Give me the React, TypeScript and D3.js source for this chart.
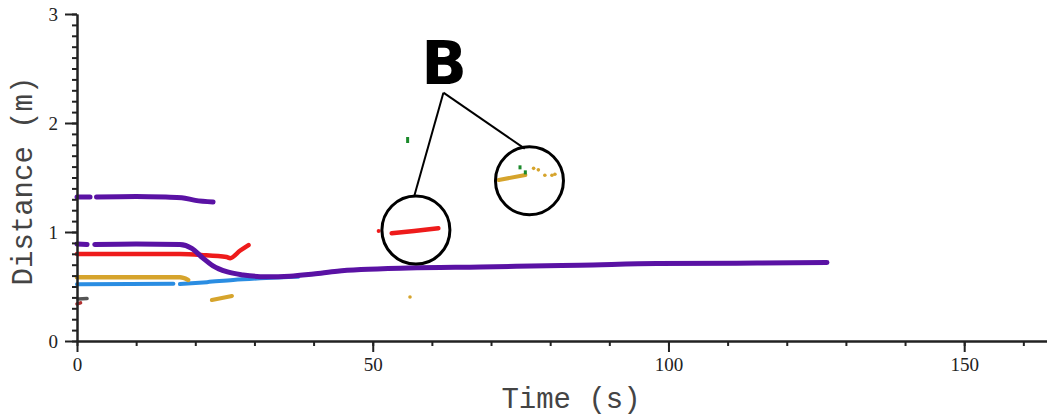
import React, { useEffect, useRef } from "react";
import * as d3 from "d3";

type Pt = [number, number];

// time (s), distance (m)
const purpleUpperA: Pt[] = [[0, 1.32], [2.2, 1.32]];
const purpleUpperB: Pt[] = [[3.3, 1.32], [10, 1.325], [15, 1.32], [17.7, 1.315], [20, 1.29], [23, 1.275]];
const purpleLowerA: Pt[] = [[0, 0.89], [1.7, 0.885]];
const purpleLowerB: Pt[] = [
  [3.0, 0.885], [10, 0.89], [17.4, 0.885], [19.4, 0.85], [21.3, 0.76], [23, 0.69], [25.3, 0.636],
  [28.1, 0.606], [32, 0.59], [36, 0.595], [40, 0.615], [44, 0.64], [48, 0.655], [56, 0.67],
  [68.2, 0.68], [79.4, 0.69], [85, 0.695], [98, 0.71], [115, 0.715], [126.8, 0.72],
];
const redMain: Pt[] = [[0, 0.798], [10, 0.798], [17.4, 0.798], [21, 0.79], [25.3, 0.77], [25.9, 0.76], [27.6, 0.83], [29, 0.88]];
const redCircle: Pt[] = [[53.2, 0.988], [57, 1.01], [61.1, 1.034]];
const redDots: Pt[] = [[51, 1.01]];
const goldMain: Pt[] = [[0, 0.584], [10, 0.584], [17.4, 0.584], [18.8, 0.56]];
const goldLow: Pt[] = [[22.8, 0.376], [26.2, 0.413]];
const goldCircle: Pt[] = [[71.3, 1.477], [75.8, 1.523]];
const goldDots: Pt[] = [[56.3, 0.404], [77.2, 1.584], [78.0, 1.57], [79.1, 1.52], [80.3, 1.52], [80.8, 1.53]];
const blueA: Pt[] = [[0, 0.52], [9, 0.522], [16.3, 0.525]];
const blueB: Pt[] = [[17.4, 0.523], [22, 0.54], [26.4, 0.56], [31, 0.575], [34.9, 0.585], [37.4, 0.59]];
const greenDots: Pt[] = [[55.9, 1.844], [74.9, 1.584], [75.8, 1.538]];
const grayShort: Pt[] = [[0.2, 0.385], [1.7, 0.39]];
const darkRedShort: Pt[] = [[0, 0.34], [0.6, 0.35]];

const xMajor = [0, 50, 100, 150];
const xMinor = d3.range(0, 161, 10);
const yMajor = [0, 1, 2, 3];
const yMinor = d3.range(0, 30.5, 1).map((v) => v / 10);

const W = 1047, H = 417;
const serif = "'Liberation Serif', 'DejaVu Serif', serif";
const mono = "'Liberation Mono', 'DejaVu Sans Mono', monospace";

export default function App() {
  const xRef = useRef<SVGGElement>(null);
  const yRef = useRef<SVGGElement>(null);

  const x = d3.scaleLinear().domain([0, 164]).range([77, 1047]);
  const y = d3.scaleLinear().domain([0, 3]).range([341, 14]);
  const line = d3.line<Pt>().x((d) => x(d[0])).y((d) => y(d[1])).curve(d3.curveMonotoneX);

  useEffect(() => {
    const gx = d3.select(xRef.current);
    gx.selectAll("*").remove();
    gx.append("g").call(d3.axisBottom(x).tickValues(xMinor).tickSize(5).tickSizeOuter(0).tickFormat(() => ""));
    gx.append("g").call(d3.axisBottom(x).tickValues(xMajor).tickSize(11).tickSizeOuter(0).tickPadding(6).tickFormat(d3.format("d")));

    const gy = d3.select(yRef.current);
    gy.selectAll("*").remove();
    gy.append("g").call(d3.axisLeft(y).tickValues(yMinor).tickSize(5).tickSizeOuter(0).tickFormat(() => ""));
    gy.append("g").call(d3.axisLeft(y).tickValues(yMajor).tickSize(12).tickSizeOuter(0).tickPadding(7).tickFormat(d3.format("d")));

    [gx, gy].forEach((g) => {
      g.selectAll("g").attr("font-family", serif).attr("font-size", 19);
      g.selectAll("path.domain").attr("stroke", "#222").attr("stroke-width", 2);
      g.selectAll(".tick line").attr("stroke", "#222").attr("stroke-width", 2);
      g.selectAll(".tick text").attr("fill", "#222").attr("font-family", serif).attr("font-size", 19);
    });
  }, []);

  const segs: { pts: Pt[]; color: string; w: number }[] = [
    { pts: purpleUpperA, color: "#5a12a4", w: 5 },
    { pts: purpleUpperB, color: "#5a12a4", w: 5 },
    { pts: blueA, color: "#2a8de2", w: 4 },
    { pts: blueB, color: "#2a8de2", w: 4 },
    { pts: goldMain, color: "#d6a42c", w: 4.5 },
    { pts: goldLow, color: "#d6a42c", w: 4 },
    { pts: redMain, color: "#ee1b1b", w: 4.5 },
    { pts: purpleLowerA, color: "#5a12a4", w: 5 },
    { pts: purpleLowerB, color: "#5a12a4", w: 5 },
    { pts: redCircle, color: "#ee1b1b", w: 4.5 },
    { pts: goldCircle, color: "#d6a42c", w: 4 },
    { pts: grayShort, color: "#555", w: 3.5 },
    { pts: darkRedShort, color: "#b03030", w: 3.5 },
  ];

  const apex: Pt = [61.95, 2.278];
  const circles: { c: Pt; r: number }[] = [
    { c: [57.3, 1.018], r: 34 },
    { c: [76.5, 1.47], r: 34 },
  ];
  const leaderEnds: Pt[] = [[57.0, 1.325], [75.7, 1.765]];

  return (
    <svg width={W} height={H} style={{ position: "absolute", left: 0, top: 0, background: "#fff" }}>
      {segs.map((s, i) => (
        <path key={i} d={line(s.pts) ?? ""} fill="none" stroke={s.color} strokeWidth={s.w} strokeLinecap="round" />
      ))}
      {redDots.map((d, i) => (
        <circle key={"r" + i} cx={x(d[0])} cy={y(d[1])} r={2} fill="#ee1b1b" />
      ))}
      {goldDots.map((d, i) => (
        <circle key={"g" + i} cx={x(d[0])} cy={y(d[1])} r={1.8} fill="#d6a42c" />
      ))}
      {greenDots.map((d, i) => (
        <rect key={"gr" + i} x={x(d[0]) - 1.5} y={y(d[1]) - 3} width={3} height={i === 0 ? 6 : 4} fill="#1b8a2b" />
      ))}

      <g ref={xRef} transform={`translate(0,${y(0)})`} />
      <g ref={yRef} transform={`translate(${x(0)},0)`} />

      {circles.map((c, i) => (
        <circle key={"c" + i} cx={x(c.c[0])} cy={y(c.c[1])} r={c.r} fill="none" stroke="#000" strokeWidth={3} />
      ))}
      {leaderEnds.map((e, i) => (
        <line key={"l" + i} x1={x(apex[0])} y1={y(apex[1])} x2={x(e[0])} y2={y(e[1])} stroke="#000" strokeWidth={2} />
      ))}
      <text x={444} y={84} textAnchor="middle" fontFamily="'DejaVu Sans', sans-serif" fontWeight="bold" fontSize={60} fill="#000">B</text>

      <text x={571} y={408} textAnchor="middle" fontFamily={mono} fontSize={29} fill="#444">Time (s)</text>
      <text transform="translate(32,181) rotate(-90)" textAnchor="middle" fontFamily={mono} fontSize={29} fill="#444">Distance (m)</text>
    </svg>
  );
}
